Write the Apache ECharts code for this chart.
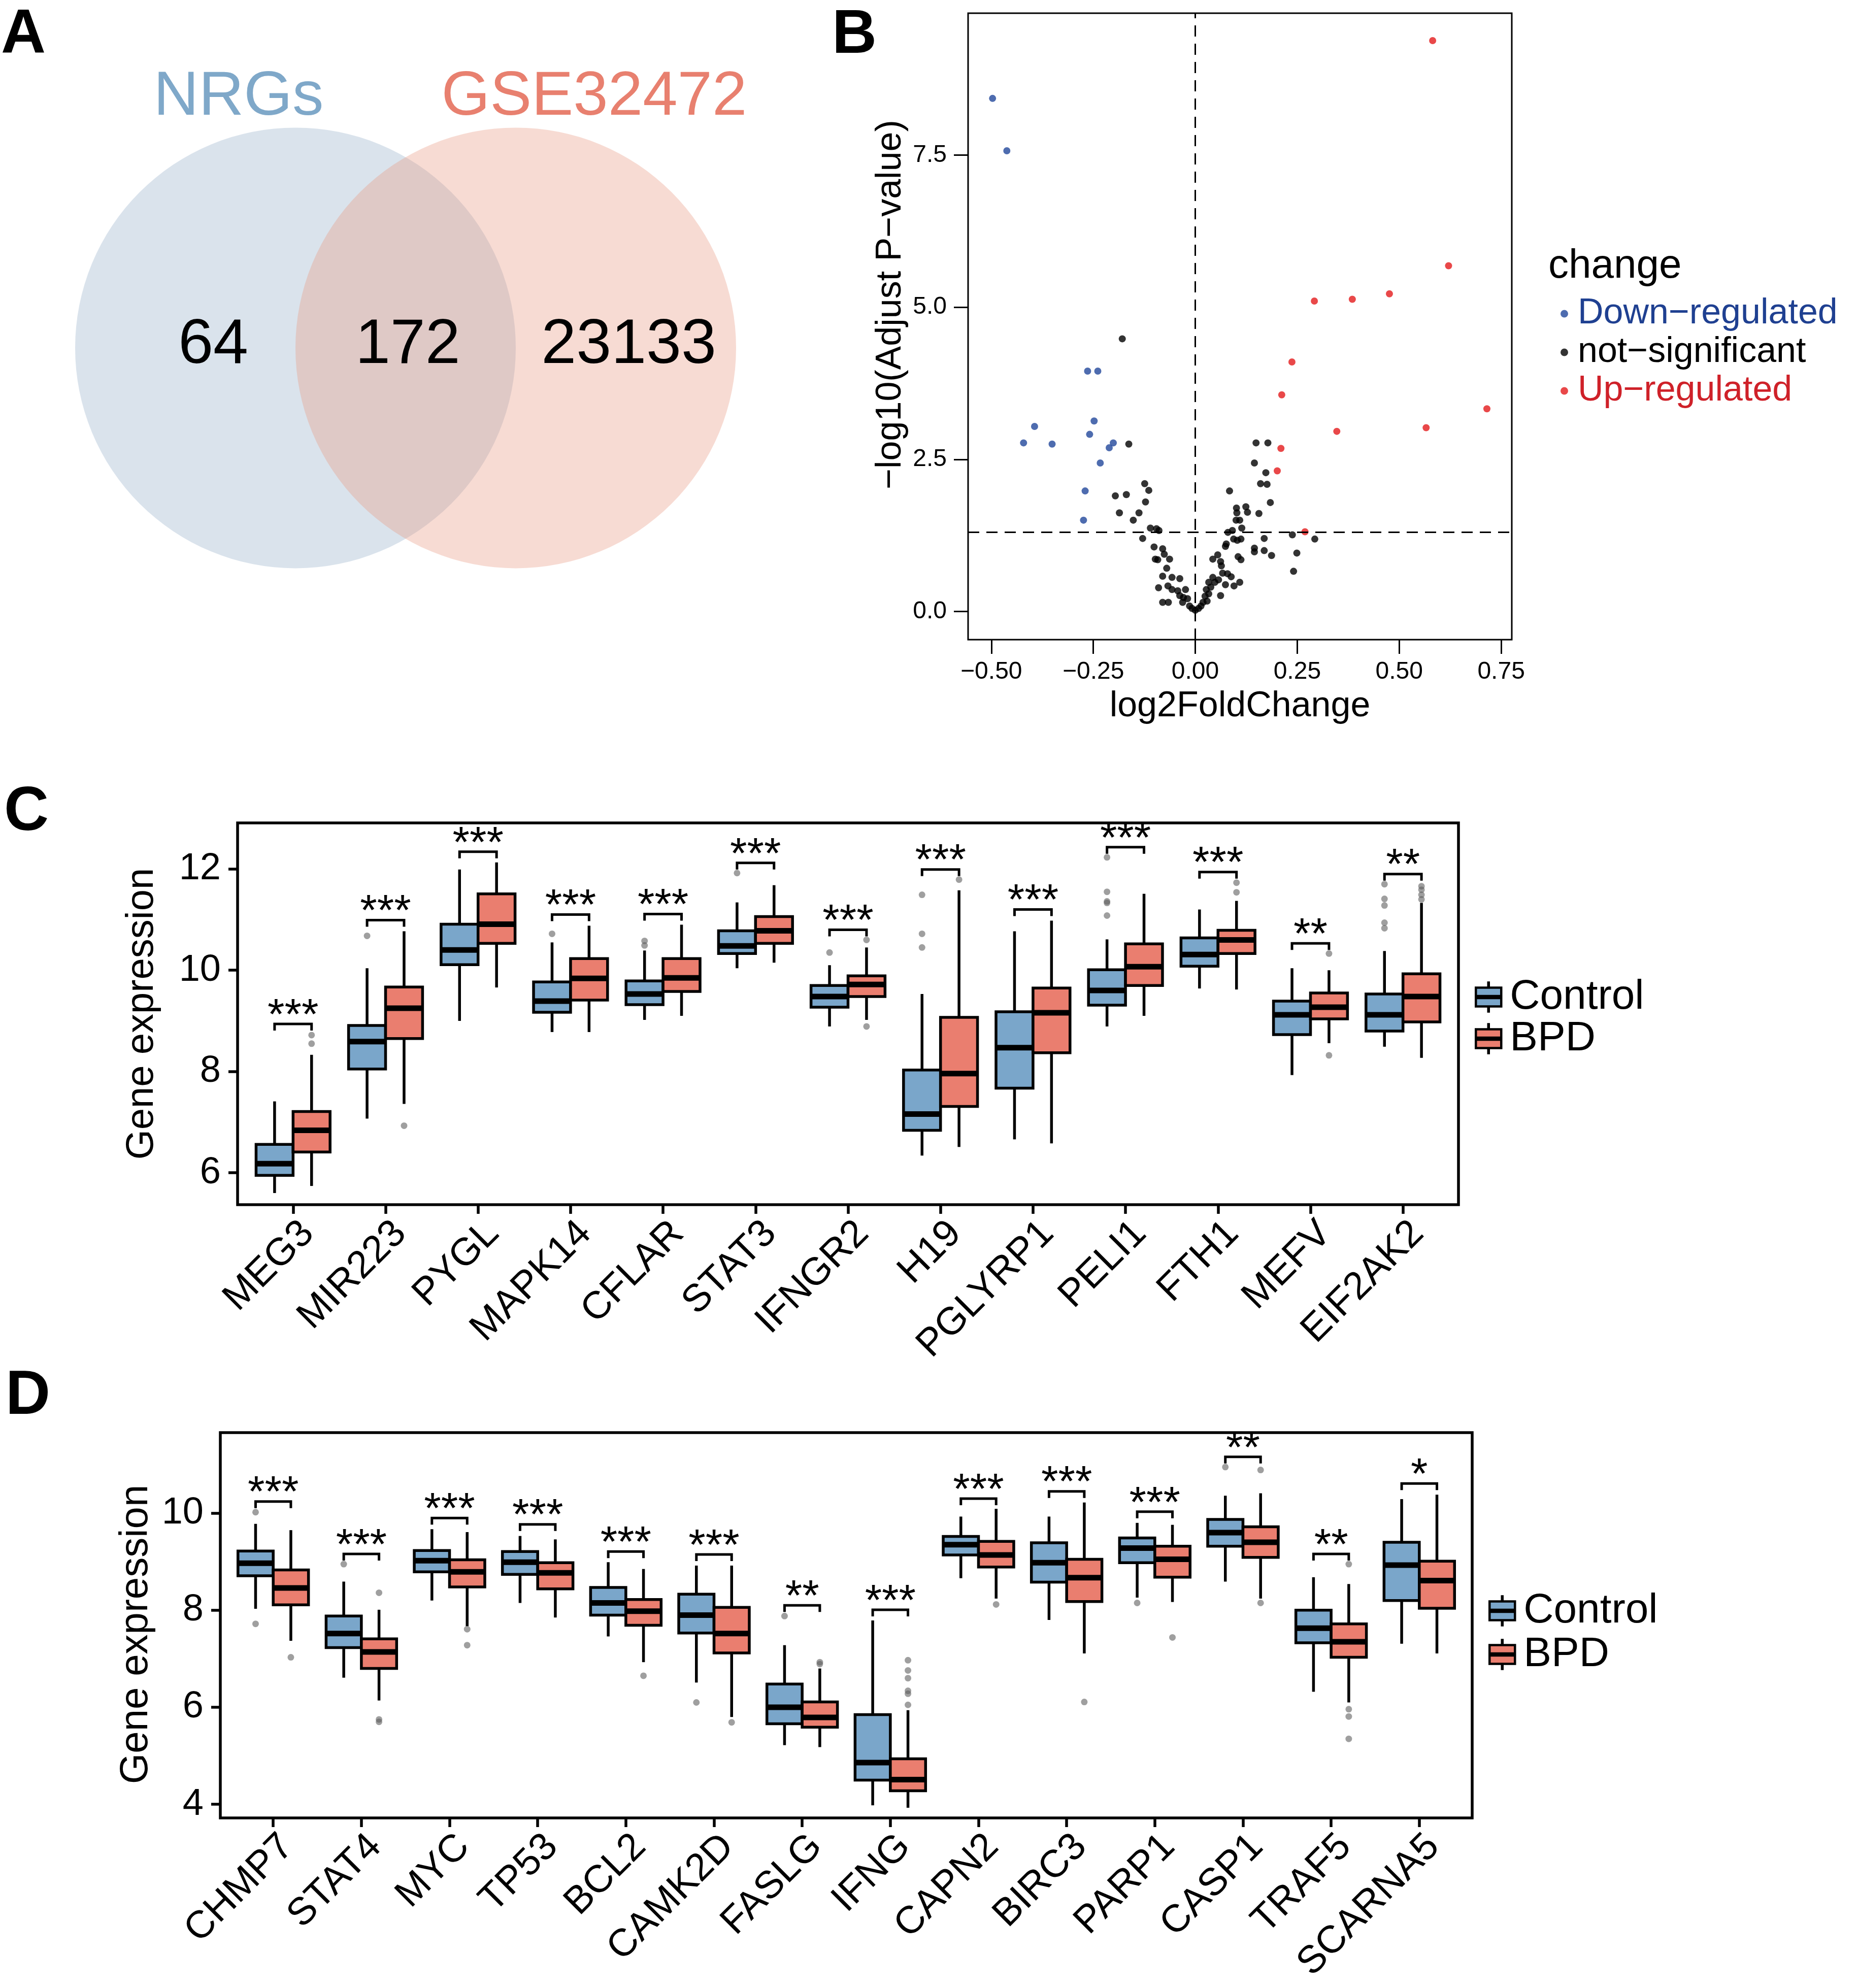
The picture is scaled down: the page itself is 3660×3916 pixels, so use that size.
<!DOCTYPE html>
<html>
<head>
<meta charset="utf-8">
<script src="https://cdn.jsdelivr.net/npm/echarts@6.0.0/dist/echarts.min.js"></script>
<style>
  html, body { margin: 0; padding: 0; background: #fff; }
  #chart-container { width: 3660px; height: 3916px; }
</style>
</head>
<body>
<div id="chart-container"></div>
<script>
var FONT = '"Liberation Sans", Arial, Helvetica, sans-serif';

// ---- panel A: venn ----
var vennSets = ['NRGs', 'GSE32472'];
var vennCounts = [64, 172, 23133];

// ---- panel B: volcano (log2FC, -log10 padj) ----
var downPts = [
  [-0.497, 8.43], [-0.462, 7.57], [-0.421, 2.77], [-0.394, 3.04], [-0.351, 2.75],
  [-0.264, 3.95], [-0.239, 3.95], [-0.248, 3.13], [-0.259, 2.91], [-0.201, 2.77],
  [-0.211, 2.69], [-0.233, 2.44], [-0.270, 1.98], [-0.274, 1.50]
];
var upPts = [
  [0.582, 9.38], [0.621, 5.68], [0.292, 5.10], [0.385, 5.13], [0.476, 5.22],
  [0.237, 4.10], [0.212, 3.56], [0.715, 3.33], [0.347, 2.96], [0.566, 3.02],
  [0.210, 2.68], [0.201, 2.31], [0.269, 1.31]
];
var nsPts = [
  [-0.179, 4.48], [-0.163, 2.75], [-0.124, 2.10], [-0.114, 1.99], [-0.196, 1.90],
  [-0.169, 1.92], [-0.122, 1.80], [-0.186, 1.62], [-0.138, 1.62], [-0.152, 1.50],
  [-0.110, 1.37], [-0.095, 1.36], [-0.089, 1.33], [-0.129, 1.20], [-0.101, 1.06],
  [-0.080, 1.03], [-0.076, 0.94], [-0.063, 0.86], [-0.098, 0.86], [-0.092, 0.85],
  [-0.070, 0.71], [-0.080, 0.58], [-0.057, 0.56], [-0.038, 0.54], [-0.090, 0.39],
  [-0.067, 0.42], [-0.057, 0.36], [-0.043, 0.34], [-0.024, 0.36], [-0.038, 0.26],
  [-0.029, 0.23], [-0.019, 0.21], [-0.080, 0.15], [-0.066, 0.15], [-0.031, 0.15],
  [-0.014, 0.09], [-0.008, 0.05], [0.000, 0.02], [0.008, 0.05], [0.014, 0.09],
  [0.019, 0.15], [0.029, 0.17], [0.024, 0.25], [0.033, 0.29], [0.027, 0.36],
  [0.038, 0.40], [0.033, 0.48], [0.043, 0.56], [0.048, 0.48], [0.057, 0.52],
  [0.062, 0.26], [0.074, 0.44], [0.067, 0.63], [0.079, 0.62], [0.088, 0.57],
  [0.095, 0.42], [0.109, 0.48], [0.043, 0.86], [0.055, 0.93], [0.064, 0.75],
  [0.062, 0.82], [0.074, 1.07], [0.076, 1.11], [0.080, 1.30], [0.091, 1.33],
  [0.094, 1.19], [0.103, 1.17], [0.112, 1.19], [0.114, 1.37], [0.105, 0.90],
  [0.112, 0.85], [0.100, 1.50], [0.109, 1.50], [0.102, 1.62], [0.101, 1.70],
  [0.124, 1.72], [0.128, 1.63], [0.084, 1.98], [0.156, 1.61], [0.145, 1.04],
  [0.145, 0.98], [0.169, 1.20], [0.169, 1.00], [0.187, 0.92], [0.184, 1.79],
  [0.160, 2.10], [0.176, 2.09], [0.173, 2.28], [0.145, 2.44], [0.149, 2.77],
  [0.178, 2.77], [0.238, 1.26], [0.249, 0.96], [0.241, 0.66], [0.293, 1.19]
];
var padjCut = 1.301;
var volTicksX = [-0.5, -0.25, 0, 0.25, 0.5, 0.75];
var volTicksY = [0, 2.5, 5, 7.5];

// ---- panel C ----
var genesC = ['MEG3', 'MIR223', 'PYGL', 'MAPK14', 'CFLAR', 'STAT3', 'IFNGR2', 'H19', 'PGLYRP1', 'PELI1', 'FTH1', 'MEFV', 'EIF2AK2'];
// [low whisker, q1, median, q3, high whisker]
var controlC = [
  [5.60, 5.95, 6.18, 6.56, 7.41], [7.07, 8.05, 8.59, 8.91, 10.04], [9.00, 10.11, 10.40, 10.91, 11.99],
  [8.78, 9.17, 9.39, 9.77, 10.55], [9.02, 9.32, 9.53, 9.79, 10.39], [10.04, 10.33, 10.48, 10.78, 11.34],
  [8.89, 9.27, 9.48, 9.70, 10.10], [6.34, 6.84, 7.16, 8.03, 9.53], [6.66, 7.67, 8.47, 9.18, 10.77],
  [8.89, 9.31, 9.60, 10.01, 10.61], [9.64, 10.08, 10.31, 10.64, 11.20], [7.93, 8.73, 9.12, 9.39, 10.04],
  [8.49, 8.80, 9.12, 9.53, 10.38]
];
var bpdC = [
  [5.74, 6.41, 6.84, 7.21, 8.33], [7.36, 8.65, 9.25, 9.67, 10.77], [9.66, 10.53, 10.91, 11.51, 12.13],
  [8.78, 9.41, 9.84, 10.23, 10.88], [9.10, 9.58, 9.85, 10.23, 10.90], [10.15, 10.53, 10.78, 11.06, 11.68],
  [9.02, 9.48, 9.72, 9.89, 10.45], [6.51, 7.31, 7.96, 9.07, 11.58], [6.58, 8.37, 9.16, 9.65, 10.98],
  [9.10, 9.70, 10.07, 10.52, 11.51], [9.62, 10.33, 10.60, 10.79, 11.37], [8.56, 9.04, 9.27, 9.55, 10.00],
  [8.27, 8.98, 9.48, 9.93, 11.33]
];
// [gene number, value]
var outCtrlC = [[2, 10.68], [4, 10.72], [5, 10.58], [5, 10.49], [6, 11.92], [7, 10.35],
  [8, 11.49], [8, 10.72], [8, 10.45], [10, 12.23], [10, 11.55], [10, 11.36], [10, 11.33], [10, 11.08],
  [13, 11.70], [13, 11.41], [13, 11.28], [13, 10.94], [13, 10.83]];
var outBpdC = [[1, 8.72], [1, 8.55], [2, 6.93], [7, 10.60], [7, 8.89], [8, 11.79], [11, 11.73], [11, 11.54],
  [12, 10.33], [12, 8.32], [13, 11.66], [13, 11.59], [13, 11.49], [13, 11.40]];
var sigC = ['***', '***', '***', '***', '***', '***', '***', '***', '***', '***', '***', '**', '**'];
var bracketC = [8.94, 10.99, 12.34, 11.10, 11.11, 12.12, 10.80, 11.99, 11.20, 12.43, 11.94, 10.53, 11.90];
var ticksC = [6, 8, 10, 12];

// ---- panel D ----
var genesD = ['CHMP7', 'STAT4', 'MYC', 'TP53', 'BCL2', 'CAMK2D', 'FASLG', 'IFNG', 'CAPN2', 'BIRC3', 'PARP1', 'CASP1', 'TRAF5', 'SCARNA5'];
var controlD = [
  [8.03, 8.71, 8.97, 9.22, 9.78], [6.61, 7.23, 7.52, 7.88, 8.59], [8.20, 8.79, 9.02, 9.23, 9.67],
  [8.15, 8.74, 8.99, 9.21, 9.53], [7.46, 7.90, 8.15, 8.47, 8.99], [6.51, 7.53, 7.90, 8.33, 8.92],
  [5.22, 5.66, 6.00, 6.48, 7.28], [3.98, 4.50, 4.86, 5.85, 7.79], [8.66, 9.14, 9.35, 9.52, 9.93],
  [7.80, 8.58, 8.98, 9.39, 9.93], [8.26, 8.98, 9.28, 9.49, 9.80], [8.59, 9.32, 9.60, 9.87, 10.36],
  [6.32, 7.33, 7.63, 8.00, 8.68], [7.31, 8.20, 8.93, 9.40, 10.29]
];
var bpdD = [
  [7.37, 8.11, 8.46, 8.83, 9.65], [6.14, 6.80, 7.14, 7.41, 8.01], [7.67, 8.48, 8.79, 9.04, 9.61],
  [7.85, 8.44, 8.77, 8.98, 9.46], [6.93, 7.69, 7.98, 8.22, 8.85], [5.80, 7.12, 7.52, 8.06, 8.92],
  [5.18, 5.59, 5.79, 6.11, 6.80], [3.93, 4.28, 4.51, 4.94, 5.94], [8.24, 8.89, 9.14, 9.42, 10.09],
  [7.11, 8.18, 8.67, 9.05, 10.22], [8.17, 8.68, 9.05, 9.32, 9.76], [8.24, 9.09, 9.40, 9.72, 10.41],
  [6.10, 7.03, 7.35, 7.72, 8.54], [7.11, 8.04, 8.61, 9.01, 10.38]
];
var outCtrlD = [[1, 10.02], [1, 7.72], [2, 8.95], [6, 6.10], [7, 7.88], [11, 8.15], [12, 10.95]];
var outBpdD = [[1, 7.03], [2, 8.36], [2, 5.75], [2, 5.70], [3, 7.61], [3, 7.28], [5, 6.65], [6, 5.69],
  [7, 6.93], [7, 6.89], [8, 6.97], [8, 6.76], [8, 6.60], [8, 6.34], [8, 6.28], [8, 6.05], [9, 8.12],
  [10, 6.11], [11, 7.44], [12, 10.89], [12, 8.15], [13, 8.95], [13, 5.96], [13, 5.81], [13, 5.35]];
var sigD = ['***', '***', '***', '***', '***', '***', '**', '***', '***', '***', '***', '**', '**', '*'];
var bracketD = [10.24, 9.16, 9.90, 9.77, 9.21, 9.15, 8.10, 8.01, 10.30, 10.45, 10.03, 11.16, 9.16, 10.61];
var ticksD = [4, 6, 8, 10];

var BLUE = '#7AA6CA', RED = '#EA7E6F';
var LW = 5.5;
var LABEL_SHIFT = 0.16;

function seq(n, add) {
  var a = [];
  for (var i = 1; i <= n; i++) a.push(i + (add || 0));
  return a;
}

// box with whiskers, ggplot style (no caps, thick median)
function boxRender(offset, fill) {
  return function (params, api) {
    var x = api.value(0) + offset;
    var lo = api.coord([x, api.value(1)]);
    var q1 = api.coord([x, api.value(2)]);
    var md = api.coord([x, api.value(3)]);
    var q3 = api.coord([x, api.value(4)]);
    var hi = api.coord([x, api.value(5)]);
    var w = api.size([0.4, 0])[0];
    var left = lo[0] - w / 2;
    var st = { stroke: '#000', lineWidth: LW };
    return {
      type: 'group',
      children: [
        { type: 'line', shape: { x1: lo[0], y1: hi[1], x2: lo[0], y2: q3[1] }, style: st },
        { type: 'line', shape: { x1: lo[0], y1: q1[1], x2: lo[0], y2: lo[1] }, style: st },
        { type: 'rect', shape: { x: left, y: q3[1], width: w, height: q1[1] - q3[1] },
          style: { fill: fill, stroke: '#000', lineWidth: LW } },
        { type: 'line', shape: { x1: left, y1: md[1], x2: left + w, y2: md[1] },
          style: { stroke: '#000', lineWidth: 11 } }
      ]
    };
  };
}

function bracketRender(labels) {
  return function (params, api) {
    var i = api.value(0), y = api.value(1);
    var l = api.coord([i - 0.2, y]);
    var r = api.coord([i + 0.2, y]);
    var leg = 13;
    return {
      type: 'group',
      children: [
        { type: 'polyline',
          shape: { points: [[l[0], l[1] + leg], [l[0], l[1]], [r[0], r[1]], [r[0], r[1] + leg]] },
          style: { stroke: '#000', lineWidth: 5, fill: 'none' } },
        { type: 'text', x: (l[0] + r[0]) / 2, y: l[1] - 14,
          style: { text: labels[params.dataIndex], fontSize: 86, fontFamily: FONT, fill: '#000',
            align: 'center', verticalAlign: 'middle' } }
      ]
    };
  };
}

function boxRows(stats) {
  return stats.map(function (s, i) { return [i + 1].concat(s); });
}

function boxPanel(gridIdx, axIdx, ctrl, bpd, outC, outB, sig, brk) {
  return [
    { name: 'Control', type: 'custom', xAxisIndex: axIdx, yAxisIndex: gridIdx,
      itemStyle: { color: BLUE }, renderItem: boxRender(-0.2, BLUE),
      encode: { x: 0, y: [1, 2, 3, 4, 5] }, data: boxRows(ctrl) },
    { name: 'BPD', type: 'custom', xAxisIndex: axIdx, yAxisIndex: gridIdx,
      itemStyle: { color: RED }, renderItem: boxRender(0.2, RED),
      encode: { x: 0, y: [1, 2, 3, 4, 5] }, data: boxRows(bpd) },
    { type: 'scatter', xAxisIndex: axIdx, yAxisIndex: gridIdx, symbolSize: 13, silent: true,
      itemStyle: { color: 'rgba(95,95,95,0.75)' },
      data: outC.map(function (d) { return [d[0] - 0.2, d[1]]; })
        .concat(outB.map(function (d) { return [d[0] + 0.2, d[1]]; })) },
    { type: 'custom', xAxisIndex: axIdx, yAxisIndex: gridIdx, renderItem: bracketRender(sig),
      data: brk.map(function (v, i) { return [i + 1, v]; }) }
  ];
}

function catAxes(gridIdx, genes) {
  var n = genes.length;
  return [
    { gridIndex: gridIdx, type: 'value', position: 'bottom', min: 0.4, max: n + 0.6,
      axisLine: { show: false, onZero: false }, splitLine: { show: false },
      axisTick: { customValues: seq(n), length: 18, lineStyle: { color: '#000', width: LW } },
      axisLabel: { show: false } },
    { gridIndex: gridIdx, type: 'value', position: 'bottom', min: 0.4, max: n + 0.6,
      axisLine: { show: false, onZero: false }, splitLine: { show: false }, axisTick: { show: false },
      axisLabel: { customValues: seq(n, LABEL_SHIFT), rotate: 45, margin: 45,
        fontSize: 76, fontFamily: FONT, color: '#000',
        formatter: function (v) { return genes[Math.round(v - LABEL_SHIFT) - 1]; } } }
  ];
}

function exprAxis(gridIdx, min, max, ticks, gap, nameSize, namePad) {
  return { gridIndex: gridIdx, type: 'value', min: min, max: max,
    axisLine: { show: false, onZero: false }, splitLine: { show: false },
    axisTick: { customValues: ticks, length: 18, lineStyle: { color: '#000', width: LW } },
    axisLabel: { customValues: ticks, margin: 33, fontSize: 74, fontFamily: FONT, color: '#000' },
    name: 'Gene expression', nameLocation: 'middle', nameRotate: 90, nameGap: gap,
    nameTextStyle: { fontSize: nameSize, fontFamily: FONT, color: '#000', padding: namePad } };
}

var minus = function (s) { return s.replace('-', '\u2212'); };

var boxIcon = 'path://M24.5,0h1v10h-1z M0,10h50v16.5h-50z M0,30.5h50v16.5h-50z M24.5,47h1v10h-1z';

var dom = document.getElementById('chart-container');
var myChart = echarts.init(dom, null, { renderer: 'canvas', width: 3660, height: 3916 });

var option = {
  animation: false,
  backgroundColor: '#fff',
  textStyle: { fontFamily: FONT },
  grid: [
    { left: 148, top: 78, width: 1302, height: 1128 },
    { left: 1907, top: 26, width: 1071, height: 1234, show: true, borderColor: '#000', borderWidth: 3 },
    { left: 468, top: 1621, width: 2405, height: 752, show: true, borderColor: '#000', borderWidth: LW },
    { left: 434, top: 2822, width: 2466, height: 759, show: true, borderColor: '#000', borderWidth: LW }
  ],
  xAxis: [
    { gridIndex: 0, type: 'value', min: -1.5, max: 1.5, show: false },
    { gridIndex: 1, type: 'value', min: -0.557, max: 0.776,
      axisLine: { show: false, onZero: false }, splitLine: { show: false },
      axisTick: { customValues: volTicksX, length: 28, lineStyle: { color: '#000', width: 3 } },
      axisLabel: { customValues: volTicksX, margin: 40, fontSize: 48, fontFamily: FONT, color: '#000',
        formatter: function (v) { return minus(v.toFixed(2)); } },
      name: 'log2FoldChange', nameLocation: 'middle', nameGap: 97,
      nameTextStyle: { fontSize: 70, fontFamily: FONT, color: '#000' } }
  ].concat(catAxes(2, genesC)).concat(catAxes(3, genesD)),
  yAxis: [
    { gridIndex: 0, type: 'value', min: -1.2, max: 1.4, show: false },
    { gridIndex: 1, type: 'value', min: -0.463, max: 9.83,
      axisLine: { show: false, onZero: false }, splitLine: { show: false },
      axisTick: { customValues: volTicksY, length: 28, lineStyle: { color: '#000', width: 3 } },
      axisLabel: { customValues: volTicksY, margin: 42, fontSize: 48, fontFamily: FONT, color: '#000',
        formatter: function (v) { return v.toFixed(1); } },
      name: '\u2212log10(Adjust P\u2212value)', nameLocation: 'middle', nameRotate: 90, nameGap: 117,
      nameTextStyle: { fontSize: 70, fontFamily: FONT, color: '#000', padding: [0, 0, 0, 86] } },
    exprAxis(2, 5.37, 12.91, ticksC, 150, 76, [0, 0, 0, 0]),
    exprAxis(3, 3.72, 11.66, ticksD, 124, 78, [0, 36, 0, 0])
  ],
  legend: [
    { orient: 'vertical', left: 3069, top: 575, icon: 'circle', itemWidth: 15, itemHeight: 15, itemGap: 0,
      selectedMode: false,
      textStyle: { fontSize: 70, fontFamily: FONT, lineHeight: 76, padding: [0, 0, 0, 14] },
      data: [
        { name: 'Down\u2212regulated', textStyle: { color: '#1f4091' } },
        { name: 'not\u2212significant', textStyle: { color: '#000' } },
        { name: 'Up\u2212regulated', textStyle: { color: '#cf2129' } }
      ] },
    { orient: 'vertical', left: 2900, top: 1918, icon: boxIcon, itemWidth: 50, itemHeight: 57, itemGap: 0,
      selectedMode: false, itemStyle: { borderColor: '#000', borderWidth: 4.5 },
      textStyle: { fontSize: 82, fontFamily: FONT, color: '#000', lineHeight: 80, padding: [0, 0, 0, 12] },
      data: ['Control', 'BPD'] },
    { orient: 'vertical', left: 2927, top: 3127, icon: boxIcon, itemWidth: 50, itemHeight: 57, itemGap: 4,
      selectedMode: false, itemStyle: { borderColor: '#000', borderWidth: 4.5 },
      textStyle: { fontSize: 82, fontFamily: FONT, color: '#000', lineHeight: 80, padding: [0, 0, 0, 12] },
      data: ['Control', 'BPD'] }
  ],
  graphic: [
    { type: 'text', x: 46, y: 70, style: { text: 'A', fontSize: 122, fontWeight: 'bold', fontFamily: FONT, fill: '#000', align: 'center', verticalAlign: 'middle' } },
    { type: 'text', x: 1683, y: 70, style: { text: 'B', fontSize: 122, fontWeight: 'bold', fontFamily: FONT, fill: '#000', align: 'center', verticalAlign: 'middle' } },
    { type: 'text', x: 52, y: 1601, style: { text: 'C', fontSize: 122, fontWeight: 'bold', fontFamily: FONT, fill: '#000', align: 'center', verticalAlign: 'middle' } },
    { type: 'text', x: 55, y: 2751, style: { text: 'D', fontSize: 122, fontWeight: 'bold', fontFamily: FONT, fill: '#000', align: 'center', verticalAlign: 'middle' } },
    { type: 'text', x: 3050, y: 525, style: { text: 'change', fontSize: 80, fontFamily: FONT, fill: '#000', align: 'left', verticalAlign: 'middle' } }
  ],
  series: [
    // venn circles
    { type: 'custom', xAxisIndex: 0, yAxisIndex: 0, silent: true,
      data: [[-0.5, 0, 1], [0.5, 0, 1]],
      renderItem: function (params, api) {
        var c = api.coord([api.value(0), api.value(1)]);
        var r = api.size([api.value(2), 0])[0];
        var fills = ['rgba(149,175,201,0.35)', 'rgba(232,152,129,0.35)'];
        return { type: 'circle', shape: { cx: c[0], cy: c[1], r: r }, style: { fill: fills[params.dataIndex] } };
      } },
    // venn counts and set names
    { type: 'custom', xAxisIndex: 0, yAxisIndex: 0, silent: true,
      data: [[-0.873, 0.01], [0.01, 0.01], [1.013, 0.01], [-0.758, 1.138], [0.856, 1.138]],
      renderItem: function (params, api) {
        var p = api.coord([api.value(0), api.value(1)]);
        var i = params.dataIndex;
        var isName = i >= vennCounts.length;
        var txt = isName ? vennSets[i - vennCounts.length] : String(vennCounts[i]);
        var col = isName ? (i === 3 ? '#7fa8c9' : '#e8806f') : '#000';
        return { type: 'text', x: p[0], y: p[1],
          style: { text: txt, fontSize: isName ? 123 : 124, fontFamily: FONT, fill: col,
            align: 'center', verticalAlign: 'middle' } };
      } },
    // volcano
    { name: 'Down\u2212regulated', type: 'scatter', xAxisIndex: 1, yAxisIndex: 1, symbolSize: 14,
      itemStyle: { color: '#22479b' }, data: downPts },
    { name: 'not\u2212significant', type: 'scatter', xAxisIndex: 1, yAxisIndex: 1, symbolSize: 14,
      itemStyle: { color: '#000' }, data: nsPts,
      markLine: { silent: true, symbol: 'none', label: { show: false },
        lineStyle: { color: '#000', width: 3, type: [22, 14] },
        data: [{ yAxis: padjCut }, { xAxis: 0 }] } },
    { name: 'Up\u2212regulated', type: 'scatter', xAxisIndex: 1, yAxisIndex: 1, symbolSize: 14,
      itemStyle: { color: '#e31a1c' }, data: upPts }
  ]
    .concat(boxPanel(2, 3, controlC, bpdC, outCtrlC, outBpdC, sigC, bracketC))
    .concat(boxPanel(3, 5, controlD, bpdD, outCtrlD, outBpdD, sigD, bracketD))
};

myChart.setOption(option);
</script>
</body>
</html>
